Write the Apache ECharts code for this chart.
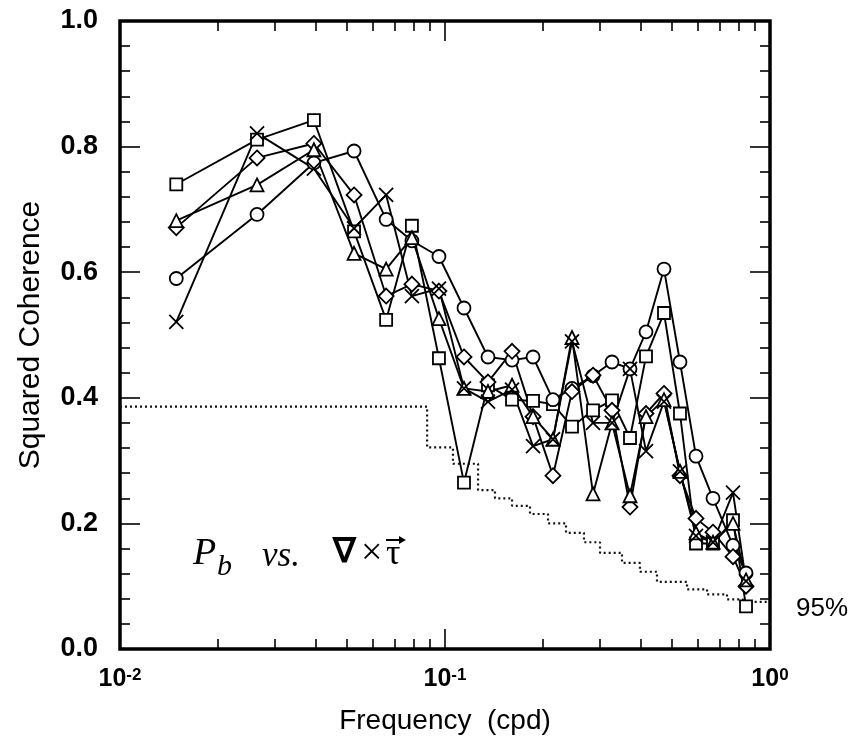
<!DOCTYPE html>
<html>
<head>
<meta charset="utf-8">
<title>Squared Coherence</title>
<script src="https://cdn.jsdelivr.net/npm/echarts@6/dist/echarts.min.js"></script>
<style>
    html, body { margin: 0; padding: 0; background: #fff; }
    #main { width: 853px; height: 740px; }
</style>
</head>
<body>
<div id="main"></div>
<script>
// band centre frequencies (cpd)
var freq = [0.0149, 0.0264, 0.0395, 0.0525, 0.0659, 0.0791, 0.0958, 0.1144, 0.1356, 0.1608, 0.1866, 0.2149,
    0.2459, 0.2854, 0.3265, 0.3709, 0.4154, 0.4719, 0.5285, 0.592, 0.6677, 0.7694, 0.8437];

// squared coherence, one array per marker
var squareVals = [0.740, 0.811, 0.842, 0.665, 0.524, 0.674, 0.463, 0.265, 0.42, 0.397, 0.395, 0.39,
    0.354, 0.38, 0.396, 0.336, 0.466, 0.535, 0.375, 0.168, 0.168, 0.205, 0.068];
var circleVals = [0.590, 0.692, 0.774, 0.793, 0.684, 0.65, 0.625, 0.543, 0.465, 0.46, 0.465, 0.397,
    0.415, 0.435, 0.457, 0.446, 0.505, 0.605, 0.457, 0.307, 0.24, 0.165, 0.121];
var diamondVals = [0.671, 0.782, 0.805, 0.723, 0.562, 0.581, 0.57, 0.465, 0.425, 0.474, 0.37, 0.276,
    0.41, 0.436, 0.38, 0.226, 0.375, 0.407, 0.276, 0.208, 0.186, 0.147, 0.10];
var triangleVals = [0.682, 0.739, 0.795, 0.630, 0.605, 0.655, 0.526, 0.415, 0.41, 0.42, 0.37, 0.334,
    0.496, 0.247, 0.36, 0.244, 0.37, 0.397, 0.283, 0.185, 0.17, 0.20, 0.11];
var crossVals = [0.521, 0.821, 0.765, 0.67, 0.723, 0.562, 0.574, 0.415, 0.394, 0.413, 0.323, 0.334,
    0.49, 0.36, 0.36, 0.446, 0.315, 0.394, 0.283, 0.18, 0.17, 0.249, 0.108];

// 95% significance level (step starts)
var sigFreq = [0.01, 0.0881, 0.1058, 0.1264, 0.1425, 0.1608, 0.1826, 0.2075, 0.2357, 0.2677, 0.2999,
    0.3504, 0.398, 0.449, 0.5555, 0.6402, 0.7373, 0.8259, 1.0];
var sigVals = [0.386, 0.321, 0.295, 0.253, 0.240, 0.228, 0.215, 0.200, 0.185, 0.170, 0.153,
    0.137, 0.123, 0.107, 0.095, 0.087, 0.079, 0.075, 0.075];

// axis ticks
var majorTicksX = [0.01, 0.1, 1];
var minorTicksX = [0.02, 0.03, 0.04, 0.05, 0.06, 0.07, 0.08, 0.09, 0.2, 0.3, 0.4, 0.5, 0.6, 0.7, 0.8, 0.9];

var chart = echarts.init(document.getElementById('main'), null, { renderer: 'canvas' });

var sans = '"Liberation Sans", Arial, Helvetica, sans-serif';
var serif = '"Liberation Serif", "Times New Roman", serif';

function pairs(vals) {
    return freq.map(function (f, i) { return [f, vals[i]]; });
}

function markerSeries(name, symbol, size, vals, fill) {
    return {
        name: name,
        type: 'line',
        data: pairs(vals),
        symbol: symbol,
        symbolSize: size,
        showAllSymbol: true,
        lineStyle: { color: '#000', width: 1.9 },
        itemStyle: { color: fill || '#fff', borderColor: '#000', borderWidth: 1.8 },
        z: 3
    };
}

// x axis pieces: bottom/top, major/minor
function xAxisPart(pos, ticks, len, showLabel) {
    return {
        type: 'log',
        logBase: 10,
        min: 0.01,
        max: 1,
        position: pos,
        axisLine: { show: false },
        splitLine: { show: false },
        axisTick: { show: true, inside: true, length: len, customValues: ticks, lineStyle: { color: '#000', width: 1.6 } },
        axisLabel: showLabel ? {
            show: true,
            customValues: majorTicksX,
            margin: 18,
            formatter: function (v) {
                var e = Math.round(Math.log(v) / Math.LN10);
                return '{b|10}{s|' + e + '}';
            },
            rich: {
                b: { fontFamily: sans, fontSize: 25, fontWeight: 'bold', color: '#000', verticalAlign: 'bottom' },
                s: { fontFamily: sans, fontSize: 17, fontWeight: 'bold', color: '#000', verticalAlign: 'top' }
            }
        } : { show: false },
        name: showLabel ? 'Frequency  (cpd)' : '',
        nameLocation: 'middle',
        nameGap: 58,
        nameTextStyle: { fontFamily: sans, fontSize: 28, color: '#000' }
    };
}

function yAxisPart(pos, showLabel) {
    return {
        type: 'value',
        min: 0,
        max: 1,
        interval: 0.2,
        position: pos,
        axisLine: { show: false },
        splitLine: { show: false },
        axisTick: { show: true, inside: true, length: 20, lineStyle: { color: '#000', width: 1.6 } },
        minorTick: { show: true, splitNumber: 5, length: 10, lineStyle: { color: '#000', width: 1.6 } },
        axisLabel: showLabel ? {
            show: true,
            margin: 22,
            fontFamily: sans,
            fontSize: 27,
            fontWeight: 'bold',
            color: '#000',
            formatter: function (v) { return v.toFixed(1); }
        } : { show: false },
        name: showLabel ? 'Squared Coherence' : '',
        nameLocation: 'middle',
        nameGap: 74,
        nameTextStyle: { fontFamily: sans, fontSize: 30, color: '#000', padding: [0, 0, 0, 0] }
    };
}

var option = {
    backgroundColor: '#fff',
    animation: false,
    grid: {
        left: 120, right: 83, top: 21, bottom: 85,
        show: true,
        borderColor: '#000',
        borderWidth: 3.5,
        backgroundColor: 'transparent'
    },
    xAxis: [
        xAxisPart('bottom', majorTicksX, 20, true),
        xAxisPart('bottom', minorTicksX, 10, false),
        xAxisPart('top', majorTicksX, 20, false),
        xAxisPart('top', minorTicksX, 10, false)
    ],
    yAxis: [
        yAxisPart('left', true),
        yAxisPart('right', false)
    ],
    series: [
        {
            name: '95%',
            type: 'line',
            data: sigFreq.map(function (f, i) { return [f, sigVals[i]]; }),
            step: 'end',
            showSymbol: false,
            lineStyle: { color: '#111', width: 2.2, type: [2, 3] },
            z: 2
        },
        markerSeries('square', 'rect', 12, squareVals),
        markerSeries('circle', 'circle', 13, circleVals),
        markerSeries('diamond', 'diamond', 15, diamondVals),
        markerSeries('triangle', 'triangle', 13, triangleVals),
        markerSeries('cross', 'path://M0,0L10,10M10,0L0,10', 14, crossVals, 'rgba(0,0,0,0)')
    ],
    graphic: [
        { type: 'text', left: 193, top: 535, style: { text: 'P', font: 'italic 38px ' + serif, fill: '#000' } },
        { type: 'text', left: 217, top: 552, style: { text: 'b', font: 'italic 30px ' + serif, fill: '#000' } },
        { type: 'text', left: 262, top: 539, style: { text: 'vs.', font: 'italic 35px ' + serif, fill: '#000' } },
        { type: 'text', left: 333, top: 536, style: { text: '\u2207', font: 'bold 34px ' + serif, fill: '#000' } },
        { type: 'text', left: 361, top: 535, style: { text: '\u00d7', font: '38px ' + serif, fill: '#000' } },
        { type: 'text', left: 386, top: 537, style: { text: '\u03c4', font: '36px ' + serif, fill: '#000' } },
        { type: 'line', shape: { x1: 386, y1: 540, x2: 404, y2: 540 }, style: { stroke: '#000', lineWidth: 2 } },
        { type: 'polygon', shape: { points: [[406, 540], [399, 536], [399, 544]] }, style: { fill: '#000' } },
        { type: 'text', left: 796, top: 596, style: { text: '95%', font: '26px ' + sans, fill: '#000' } }
    ]
};

chart.setOption(option);
</script>
</body>
</html>
